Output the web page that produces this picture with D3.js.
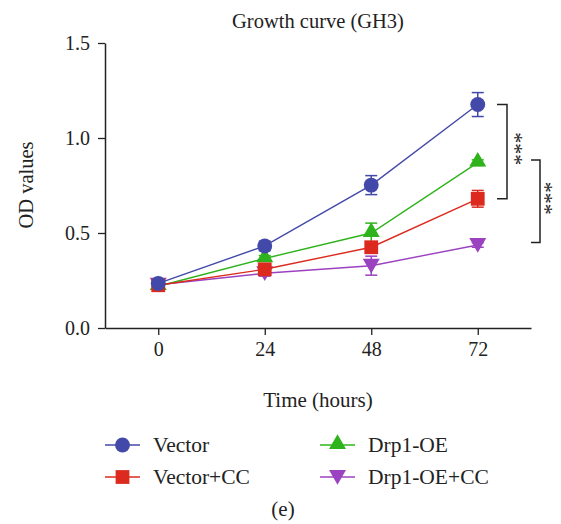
<!DOCTYPE html>
<html>
<head>
<meta charset="utf-8">
<script src="https://cdn.jsdelivr.net/npm/d3@7"></script>
<style>
  body { margin: 0; background: #fff; }
  text { font-family: "Liberation Serif", "DejaVu Serif", serif; fill: #222; }
</style>
</head>
<body>
<script>
var width = 561;
var height = 524;

// data
var hours = [0, 24, 48, 72];
var seriesNames = ["Vector", "Vector+CC", "Drp1-OE", "Drp1-OE+CC"];
var vectorVals = [0.235, 0.432, 0.752, 1.176];
var vectorErr = [0.015, 0.025, 0.05, 0.063];
var vectorCCVals = [0.225, 0.309, 0.425, 0.68];
var vectorCCErr = [0.012, 0.02, 0.02, 0.044];
var drpVals = [0.22, 0.366, 0.5, 0.87];
var drpErr = [0.012, 0.015, 0.052, 0.015];
var drpCCVals = [0.228, 0.288, 0.328, 0.437];
var drpCCErr = [0.01, 0.015, 0.05, 0.012];
var yTicks = [0.0, 0.5, 1.0, 1.5];

var colors = {
    "Vector": "#4249a8",
    "Vector+CC": "#dc2a1f",
    "Drp1-OE": "#2fb31c",
    "Drp1-OE+CC": "#9b42c0"
};
var shapes = {
    "Vector": d3.symbolCircle,
    "Vector+CC": d3.symbolSquare,
    "Drp1-OE": d3.symbolTriangle,
    "Drp1-OE+CC": "down"
};

var series = [
    { name: "Drp1-OE+CC", vals: drpCCVals, err: drpCCErr },
    { name: "Drp1-OE", vals: drpVals, err: drpErr },
    { name: "Vector+CC", vals: vectorCCVals, err: vectorCCErr },
    { name: "Vector", vals: vectorVals, err: vectorErr }
];

var svg = d3.select("body")
    .append("svg")
    .attr("width", width)
    .attr("height", height);

var x = d3.scaleLinear().domain([-12, 84]).range([105, 531]);
var y = d3.scaleLinear().domain([0, 1.5]).range([328, 43]);

// axes
var xAxis = svg.append("g")
    .attr("transform", "translate(0," + y(0) + ")")
    .call(d3.axisBottom(x).tickValues(hours).tickSize(7).tickPadding(7).tickSizeOuter(0));
var yAxis = svg.append("g")
    .attr("transform", "translate(" + x(-12) + ",0)")
    .call(d3.axisLeft(y).tickValues(yTicks).tickSize(7).tickPadding(8).tickSizeOuter(0)
        .tickFormat(d3.format(".1f")));

[xAxis, yAxis].forEach(function(a) {
    a.attr("font-family", null);
    a.select(".domain").attr("stroke", "#222").attr("stroke-width", 1.5);
    a.selectAll(".tick line").attr("stroke", "#222").attr("stroke-width", 1.3);
    a.selectAll(".tick text")
        .style("font-family", "'Liberation Serif', serif")
        .style("font-size", "20px")
        .attr("fill", "#222");
});

function symbolPath(name, size) {
    if (shapes[name] === "down") {
        return d3.symbol().type(d3.symbolTriangle).size(size)();
    }
    return d3.symbol().type(shapes[name]).size(size)();
}
function symbolSize(name) {
    if (name === "Vector") return 175;
    if (name === "Vector+CC") return 190;
    return 125;
}
function symbolTransform(name, px, py) {
    if (shapes[name] === "down") return "translate(" + px + "," + (py - 2) + ") rotate(180)";
    if (name === "Drp1-OE") return "translate(" + px + "," + (py - 1) + ")";
    return "translate(" + px + "," + py + ")";
}

var line = d3.line()
    .x(function(d) { return x(d.h); })
    .y(function(d) { return y(d.v); });

series.forEach(function(s) {
    var pts = hours.map(function(h, i) { return { h: h, v: s.vals[i], e: s.err[i] }; });
    var g = svg.append("g");
    g.append("path")
        .datum(pts)
        .attr("d", line)
        .attr("fill", "none")
        .attr("stroke", colors[s.name])
        .attr("stroke-width", 1.4);

    // error bars
    var eb = g.selectAll(".eb").data(pts).enter().append("g");
    eb.append("line")
        .attr("x1", function(d) { return x(d.h); })
        .attr("x2", function(d) { return x(d.h); })
        .attr("y1", function(d) { return y(d.v - d.e); })
        .attr("y2", function(d) { return y(d.v + d.e); })
        .attr("stroke", colors[s.name]).attr("stroke-width", 1.5);
    [-1, 1].forEach(function(sign) {
        eb.append("line")
            .attr("x1", function(d) { return x(d.h) - 6; })
            .attr("x2", function(d) { return x(d.h) + 6; })
            .attr("y1", function(d) { return y(d.v + sign * d.e); })
            .attr("y2", function(d) { return y(d.v + sign * d.e); })
            .attr("stroke", colors[s.name]).attr("stroke-width", 1.5);
    });

    g.selectAll(".pt").data(pts).enter().append("path")
        .attr("d", symbolPath(s.name, symbolSize(s.name)))
        .attr("transform", function(d) { return symbolTransform(s.name, x(d.h), y(d.v)); })
        .attr("fill", colors[s.name]);
});

// significance brackets
function bracket(x0, x1, v0, v1, sx) {
    svg.append("path")
        .attr("d", "M" + x0 + "," + y(v0) + "H" + x1 + "V" + y(v1) + "H" + x0)
        .attr("fill", "none")
        .attr("stroke", "#222")
        .attr("stroke-width", 1.5);
    var cy = (y(v0) + y(v1)) / 2 - 3;
    svg.append("text")
        .attr("transform", "translate(" + sx + "," + cy + ") rotate(90)")
        .attr("text-anchor", "middle")
        .style("font-size", "22px")
        .attr("fill", "#333")
        .text("***");
}
bracket(497, 507, 1.176, 0.68, 508);
bracket(531, 540, 0.884, 0.45, 538);

// titles
svg.append("text")
    .attr("x", 318).attr("y", 28)
    .attr("text-anchor", "middle")
    .style("font-size", "20.5px")
    .text("Growth curve (GH3)");

svg.append("text")
    .attr("transform", "translate(33,185) rotate(-90)")
    .attr("text-anchor", "middle")
    .style("font-size", "20.5px")
    .text("OD values");

svg.append("text")
    .attr("x", 318).attr("y", 407)
    .attr("text-anchor", "middle")
    .style("font-size", "21px")
    .text("Time (hours)");

// legend
var legendPos = [
    { name: "Vector", lx: 105, ly: 445 },
    { name: "Vector+CC", lx: 105, ly: 477 },
    { name: "Drp1-OE", lx: 320, ly: 445 },
    { name: "Drp1-OE+CC", lx: 320, ly: 477 }
];
legendPos.forEach(function(l) {
    var g = svg.append("g");
    g.append("line")
        .attr("x1", l.lx).attr("x2", l.lx + 35)
        .attr("y1", l.ly).attr("y2", l.ly)
        .attr("stroke", colors[l.name]).attr("stroke-width", 1.4);
    g.append("path")
        .attr("d", symbolPath(l.name, symbolSize(l.name)))
        .attr("transform", symbolTransform(l.name, l.lx + 17.5, l.ly))
        .attr("fill", colors[l.name]);
    g.append("text")
        .attr("x", l.lx + 48).attr("y", l.ly + 7)
        .style("font-size", "21.5px")
        .text(l.name);
});

svg.append("text")
    .attr("x", 283).attr("y", 516)
    .attr("text-anchor", "middle")
    .style("font-size", "21px")
    .text("(e)");
</script>
</body>
</html>
